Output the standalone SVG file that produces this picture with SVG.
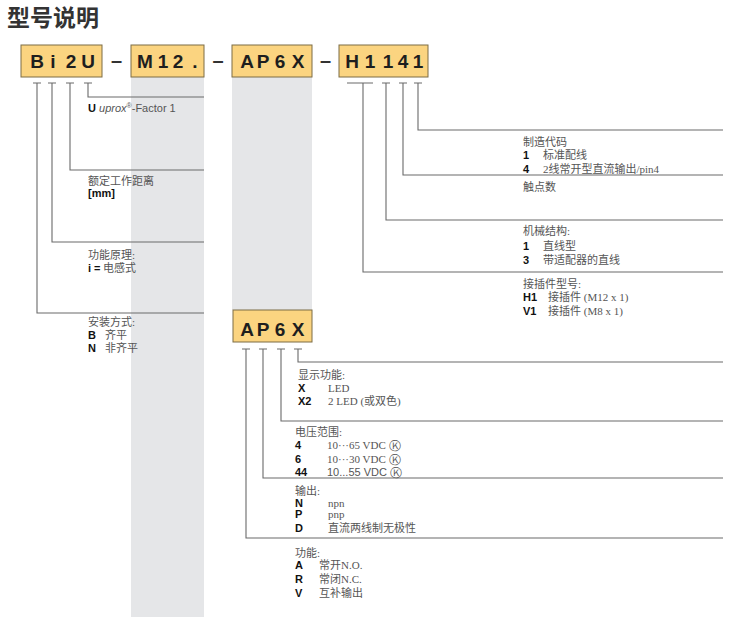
<svg xmlns="http://www.w3.org/2000/svg" width="755" height="617" viewBox="0 0 755 617">
<style>
.bg{fill:#ffffff}
.col{fill:#e5e6e8}
.box{fill:#fbd480;stroke:#7d6d45;stroke-width:1}
.code{font-family:"Liberation Sans",Arial,sans-serif;font-weight:bold;font-size:19px;fill:#1e1e1e;text-anchor:middle}
.dash{font-family:"Liberation Sans",Arial,sans-serif;font-weight:bold;font-size:20px;fill:#333;text-anchor:middle}
.ln{fill:none;stroke:#6a6a6a;stroke-width:1.1}
.lb{font-family:"Liberation Serif","Noto Sans CJK SC",serif;font-size:11px;fill:#555}
.k{font-family:"Liberation Sans",Arial,sans-serif;font-weight:bold;font-size:11px;fill:#111}
.s{font-family:"Liberation Sans",Arial,sans-serif;font-size:11px;fill:#555}
.ck{font-family:"DejaVu Sans",sans-serif;font-size:11.5px}
.title{font-family:"Noto Sans CJK SC",sans-serif;font-weight:bold;font-size:23px;fill:#333}
</style>
<rect class="bg" x="0" y="0" width="755" height="617"/>
<text class="title" x="7" y="26">型号说明</text>
<rect class="col" x="131" y="77" width="73" height="540"/>
<rect class="col" x="232" y="77" width="80" height="233"/>

<g id="code-bi2u"><rect class="box" x="21" y="45" width="81" height="32"/><text class="code" x="37 53 62 71 88" y="68">Bi 2U</text></g>
<text class="dash" x="116.5" y="67">–</text>
<g id="code-m12"><rect class="box" x="131" y="45" width="73" height="32"/><text class="code" x="145 163 178 195" y="68">M12.</text></g>
<text class="dash" x="218" y="67">–</text>
<g id="code-ap6x"><rect class="box" x="232" y="45" width="80" height="32"/><text class="code" x="247 263 280 298" y="68">AP6X</text></g>
<text class="dash" x="325.5" y="67">–</text>
<g id="code-h1141"><rect class="box" x="339" y="45" width="89" height="32"/><text class="code" x="352 370 388 403 418" y="68">H1141</text></g>
<g id="code-ap6x-detail"><rect class="box" x="233" y="310" width="79" height="32"/><text class="code" x="247 263 280 298" y="336">AP6X</text></g>

<g id="connectors">
<path class="ln" d="M33 83H41M48 83H56M66 83H74M84 83H92"/>
<path class="ln" d="M88 83V97H204M70 83V170H204M52 83V242H204M37 83V313H204"/>
<path class="ln" d="M347 83H373M382 83H390M399 83H407M414 83H422"/>
<path class="ln" d="M418 83V130H723M403 83V175H723M386 83V220H723M363 83V272H723"/>
<path class="ln" d="M242 349H250M259 349H267M277 349H285M294 349H302"/>
<path class="ln" d="M298 349V362H723M281 349V421H723M263 349V478H723M246 349V538H723"/>
</g>

<g id="label-u"><text class="s" x="88" y="112"><tspan class="k" style="fill:#111">U</tspan> <tspan font-style="italic">uprox</tspan><tspan font-size="7" dy="-4">®</tspan><tspan dy="4">-Factor 1</tspan></text></g>
<g id="label-distance"><text class="lb" x="88" y="185">额定工作距离</text><text class="k" x="88" y="197">[mm]</text></g>
<g id="label-principle"><text class="lb" x="88" y="259">功能原理:</text><text class="k" x="88" y="272">i =</text><text class="lb" x="103" y="272">电感式</text></g>
<g id="label-mount"><text class="lb" x="88" y="326">安装方式:</text><text class="k" x="88" y="339">B</text><text class="lb" x="105" y="339">齐平</text><text class="k" x="88" y="352">N</text><text class="lb" x="105" y="352">非齐平</text></g>

<g id="label-mfg"><text class="lb" x="523" y="146">制造代码</text><text class="k" x="523" y="159">1</text><text class="lb" x="543" y="159">标准配线</text><text class="k" x="523" y="173">4</text><text class="lb" x="543" y="173">2线常开型直流输出/pin4</text></g>
<g id="label-contacts"><text class="lb" x="523" y="191">触点数</text></g>
<g id="label-mech"><text class="lb" x="523" y="235">机械结构:</text><text class="k" x="523" y="250">1</text><text class="lb" x="543" y="250">直线型</text><text class="k" x="523" y="264">3</text><text class="lb" x="543" y="264">带适配器的直线</text></g>
<g id="label-conn"><text class="lb" x="523" y="288">接插件型号:</text><text class="k" x="523" y="301">H1</text><text class="lb" x="548" y="301">接插件 (M12 x 1)</text><text class="k" x="523" y="315">V1</text><text class="lb" x="548" y="315">接插件 (M8 x 1)</text></g>

<g id="label-display"><text class="lb" x="298" y="379">显示功能:</text><text class="k" x="298" y="392">X</text><text class="lb" x="328" y="392">LED</text><text class="k" x="298" y="405">X2</text><text class="lb" x="328" y="405">2 LED (或双色)</text></g>
<g id="label-voltage"><text class="lb" x="295" y="436">电压范围:</text><text class="k" x="295" y="449">4</text><text class="lb" x="327" y="449">10···65 VDC <tspan class="ck" dy="1">Ⓚ</tspan></text><text class="k" x="295" y="463">6</text><text class="lb" x="327" y="463">10···30 VDC <tspan class="ck" dy="1">Ⓚ</tspan></text><text class="k" x="295" y="476">44</text><text class="s" x="327" y="476">10...55 VDC <tspan class="ck" dy="1">Ⓚ</tspan></text></g>
<g id="label-output"><text class="lb" x="295" y="495">输出:</text><text class="k" x="295" y="507">N</text><text class="lb" x="328" y="507">npn</text><text class="k" x="295" y="518">P</text><text class="lb" x="328" y="518">pnp</text><text class="k" x="295" y="532">D</text><text class="lb" x="328" y="532">直流两线制无极性</text></g>
<g id="label-function"><text class="lb" x="295" y="557">功能:</text><text class="k" x="295" y="569">A</text><text class="lb" x="319" y="569">常开N.O.</text><text class="k" x="295" y="583">R</text><text class="lb" x="319" y="583">常闭N.C.</text><text class="k" x="295" y="597">V</text><text class="lb" x="319" y="597">互补输出</text></g>
</svg>
